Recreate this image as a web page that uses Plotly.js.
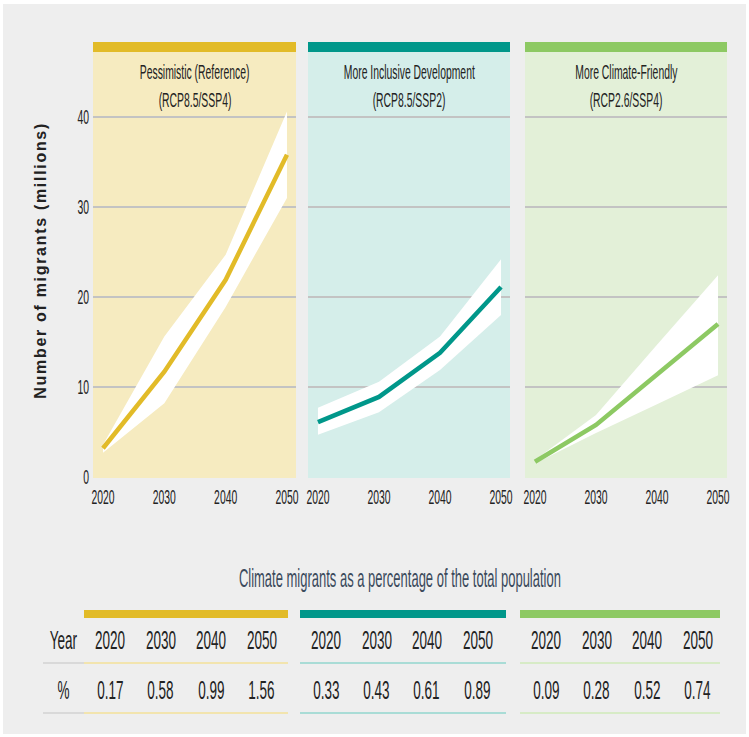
<!DOCTYPE html>
<html>
<head>
<meta charset="utf-8">
<script src="https://cdn.plot.ly/plotly-3.0.1.min.js"></script>
<style>
  html, body { margin: 0; padding: 0; background: #ffffff; }
  #chart { width: 749px; height: 737px; }
</style>
</head>
<body>
<div id="chart"></div>
<script>
// ---------------- DATA ----------------
const years = [2020, 2030, 2040, 2050];
const yearLabels = ["2020", "2030", "2040", "2050"];
const yTickVals = [0, 10, 20, 30, 40];
const yTickLabels = ["0", "10", "20", "30", "40"];

const scenarioNames = ["Pessimistic (Reference)", "More Inclusive Development", "More Climate-Friendly"];
const scenarioCodes = ["(RCP8.5/SSP4)", "(RCP8.5/SSP2)", "(RCP2.6/SSP4)"];

const pessimisticMean = [3.2, 11.7, 21.9, 35.8];
const pessimisticLow  = [2.7, 8.2, 18.9, 31.0];
const pessimisticHigh = [3.6, 15.6, 24.7, 40.6];

const inclusiveMean = [6.1, 8.9, 13.8, 21.1];
const inclusiveLow  = [4.7, 7.2, 11.9, 18.0];
const inclusiveHigh = [7.7, 10.6, 15.6, 24.2];

const friendlyMean = [1.7, 5.8, 11.4, 17.0];
const friendlyLow  = [1.5, 4.9, 8.1, 11.3];
const friendlyHigh = [1.9, 6.9, 14.7, 22.4];

const pessimisticPct = ["0.17", "0.58", "0.99", "1.56"];
const inclusivePct   = ["0.33", "0.43", "0.61", "0.89"];
const friendlyPct    = ["0.09", "0.28", "0.52", "0.74"];

const yAxisTitle = "Number of migrants (millions)";
const tableTitle = "Climate migrants as a percentage of the total population";
const rowLabels = ["Year", "%"];

// ---------------- STYLE / LAYOUT ----------------
const W = 749, H = 737;
const px = x => x / W;
const py = y => 1 - y / H;

const lineColors  = ["#E2BB28", "#00978A", "#8DC963"];
const panelColors = ["#F6EBC0", "#D5EEEA", "#E3F0D8"];
const rowLineColors = ["#F2E4AE", "#A9DCD6", "#D7EBC6"];
const panelX = [[93, 296], [308, 510], [525, 727]];
const tableX = [[84, 288], [300, 506], [520, 720]];
const sans = "Liberation Sans, Arial, sans-serif";
const textColor = "#222222";
const SQUEEZE = 0.52;       // condensed look of the original typeface
const TITLE_LENGTH = 275;   // length of the rotated axis title

const series = [
  {mean: pessimisticMean, low: pessimisticLow, high: pessimisticHigh, pct: pessimisticPct},
  {mean: inclusiveMean, low: inclusiveLow, high: inclusiveHigh, pct: inclusivePct},
  {mean: friendlyMean, low: friendlyLow, high: friendlyHigh, pct: friendlyPct}
];

const traces = [];
series.forEach((s, i) => {
  const xa = i === 0 ? "x" : "x" + (i + 1);
  const ya = i === 0 ? "y" : "y" + (i + 1);
  traces.push({x: years, y: s.low, xaxis: xa, yaxis: ya, mode: "lines",
    line: {width: 0, color: "rgba(255,255,255,0)"}, hoverinfo: "skip", showlegend: false});
  traces.push({x: years, y: s.high, xaxis: xa, yaxis: ya, mode: "lines", fill: "tonexty",
    fillcolor: "#ffffff", line: {width: 0, color: "rgba(255,255,255,0)"}, hoverinfo: "skip", showlegend: false});
  traces.push({x: years, y: s.mean, xaxis: xa, yaxis: ya, mode: "lines",
    line: {width: 4.5, color: lineColors[i]}, showlegend: false});
});

const shapes = [];
shapes.push({type: "rect", xref: "paper", yref: "paper", x0: px(3), x1: px(746), y0: py(734), y1: py(4),
  fillcolor: "#EEEEEE", line: {width: 0}, layer: "below"});
panelX.forEach((p, i) => {
  shapes.push({type: "rect", xref: "paper", yref: "paper", x0: px(p[0]), x1: px(p[1]), y0: py(478), y1: py(52),
    fillcolor: panelColors[i], line: {width: 0}, layer: "below"});
  shapes.push({type: "rect", xref: "paper", yref: "paper", x0: px(p[0]), x1: px(p[1]), y0: py(52), y1: py(42),
    fillcolor: lineColors[i], line: {width: 0}, layer: "below"});
});
shapes.push({type: "line", xref: "paper", yref: "paper", x0: px(43), x1: px(84), y0: py(663), y1: py(663),
  line: {color: "#D9D9D9", width: 2}});
shapes.push({type: "line", xref: "paper", yref: "paper", x0: px(43), x1: px(84), y0: py(713), y1: py(713),
  line: {color: "#D9D9D9", width: 2}});
tableX.forEach((t, i) => {
  shapes.push({type: "rect", xref: "paper", yref: "paper", x0: px(t[0]), x1: px(t[1]), y0: py(618), y1: py(610),
    fillcolor: lineColors[i], line: {width: 0}});
  [663, 713].forEach(yy => shapes.push({type: "line", xref: "paper", yref: "paper",
    x0: px(t[0]), x1: px(t[1]), y0: py(yy), y1: py(yy), line: {color: rowLineColors[i], width: 2}}));
});

function ann(text, x, y, size, color, extra) {
  return Object.assign({text: text, xref: "paper", yref: "paper", x: x, y: y, showarrow: false,
    xanchor: "center", yanchor: "middle", font: {family: sans, size: size, color: color || textColor}}, extra || {});
}

const annotations = [];
annotations.push(ann(yAxisTitle, px(40), py(261), 16, textColor,
  {textangle: -90, font: {family: sans, size: 16, color: textColor, weight: "bold"}}));
panelX.forEach((p, i) => {
  const cx = px((p[0] + p[1]) / 2);
  annotations.push(ann(scenarioNames[i], cx, py(72), 20));
  annotations.push(ann(scenarioCodes[i], cx, py(100), 20));
});
annotations.push(ann(tableTitle, px(400), py(578), 25, "#3B4A5C"));
annotations.push(ann(rowLabels[0], px(63), py(640), 26));
annotations.push(ann(rowLabels[1], px(63), py(690), 26));
tableX.forEach((t, i) => {
  yearLabels.forEach((yl, j) => {
    const cx = px(t[0] + 26 + 50.5 * j);
    annotations.push(ann(yl, cx, py(640), 26));
    annotations.push(ann(series[i].pct[j], cx, py(690), 26));
  });
});

const xRange = [2018.37, 2051.47];
const yRange = [-0.1, 47.2];
const yDomain = [py(478), py(52)];

function xAxis(i, anchor) {
  return {domain: [px(panelX[i][0]), px(panelX[i][1])], range: xRange, anchor: anchor,
    tickvals: years, ticktext: yearLabels, ticks: "", showgrid: false, zeroline: false, showline: false,
    tickfont: {family: sans, size: 20, color: textColor}, ticklabelstandoff: 5, fixedrange: true};
}
function yAxis(i, anchor, showLabels) {
  const a = {domain: yDomain, range: yRange, anchor: anchor, tickvals: yTickVals, ticktext: yTickLabels,
    ticks: "", showgrid: true, gridcolor: "#C3C3C3", gridwidth: 1.5, zeroline: false, showline: false,
    showticklabels: showLabels, tickfont: {family: sans, size: 20, color: textColor},
    ticklabelstandoff: 3, fixedrange: true};
  if (i > 0) a.matches = "y";
  return a;
}

const layout = {
  width: W, height: H,
  margin: {l: 0, r: 0, t: 0, b: 0},
  paper_bgcolor: "#ffffff",
  plot_bgcolor: "rgba(0,0,0,0)",
  showlegend: false,
  xaxis: xAxis(0, "y"), xaxis2: xAxis(1, "y2"), xaxis3: xAxis(2, "y3"),
  yaxis: yAxis(0, "x", true), yaxis2: yAxis(1, "x2", false), yaxis3: yAxis(2, "x3", false),
  shapes: shapes,
  annotations: annotations
};

Plotly.newPlot("chart", traces, layout, {staticPlot: true, displayModeBar: false}).then(gd => {
  // give the text the condensed proportions of the original typeface
  gd.querySelectorAll("text").forEach(t => {
    const s = (t.textContent || "").trim();
    if (!s) return;
    if (s === yAxisTitle) {
      t.setAttribute("textLength", TITLE_LENGTH);
      t.setAttribute("lengthAdjust", "spacing");
      return;
    }
    const bb = t.getBBox();
    const anchor = t.getAttribute("text-anchor") || getComputedStyle(t).textAnchor || "start";
    let ax = bb.x;
    if (anchor === "middle") ax = bb.x + bb.width / 2;
    else if (anchor === "end") ax = bb.x + bb.width;
    const prev = t.getAttribute("transform") || "";
    t.setAttribute("transform",
      (prev + " translate(" + ax.toFixed(2) + ",0) scale(" + SQUEEZE + ",1) translate(" + (-ax).toFixed(2) + ",0)").trim());
  });
});
</script>
</body>
</html>
